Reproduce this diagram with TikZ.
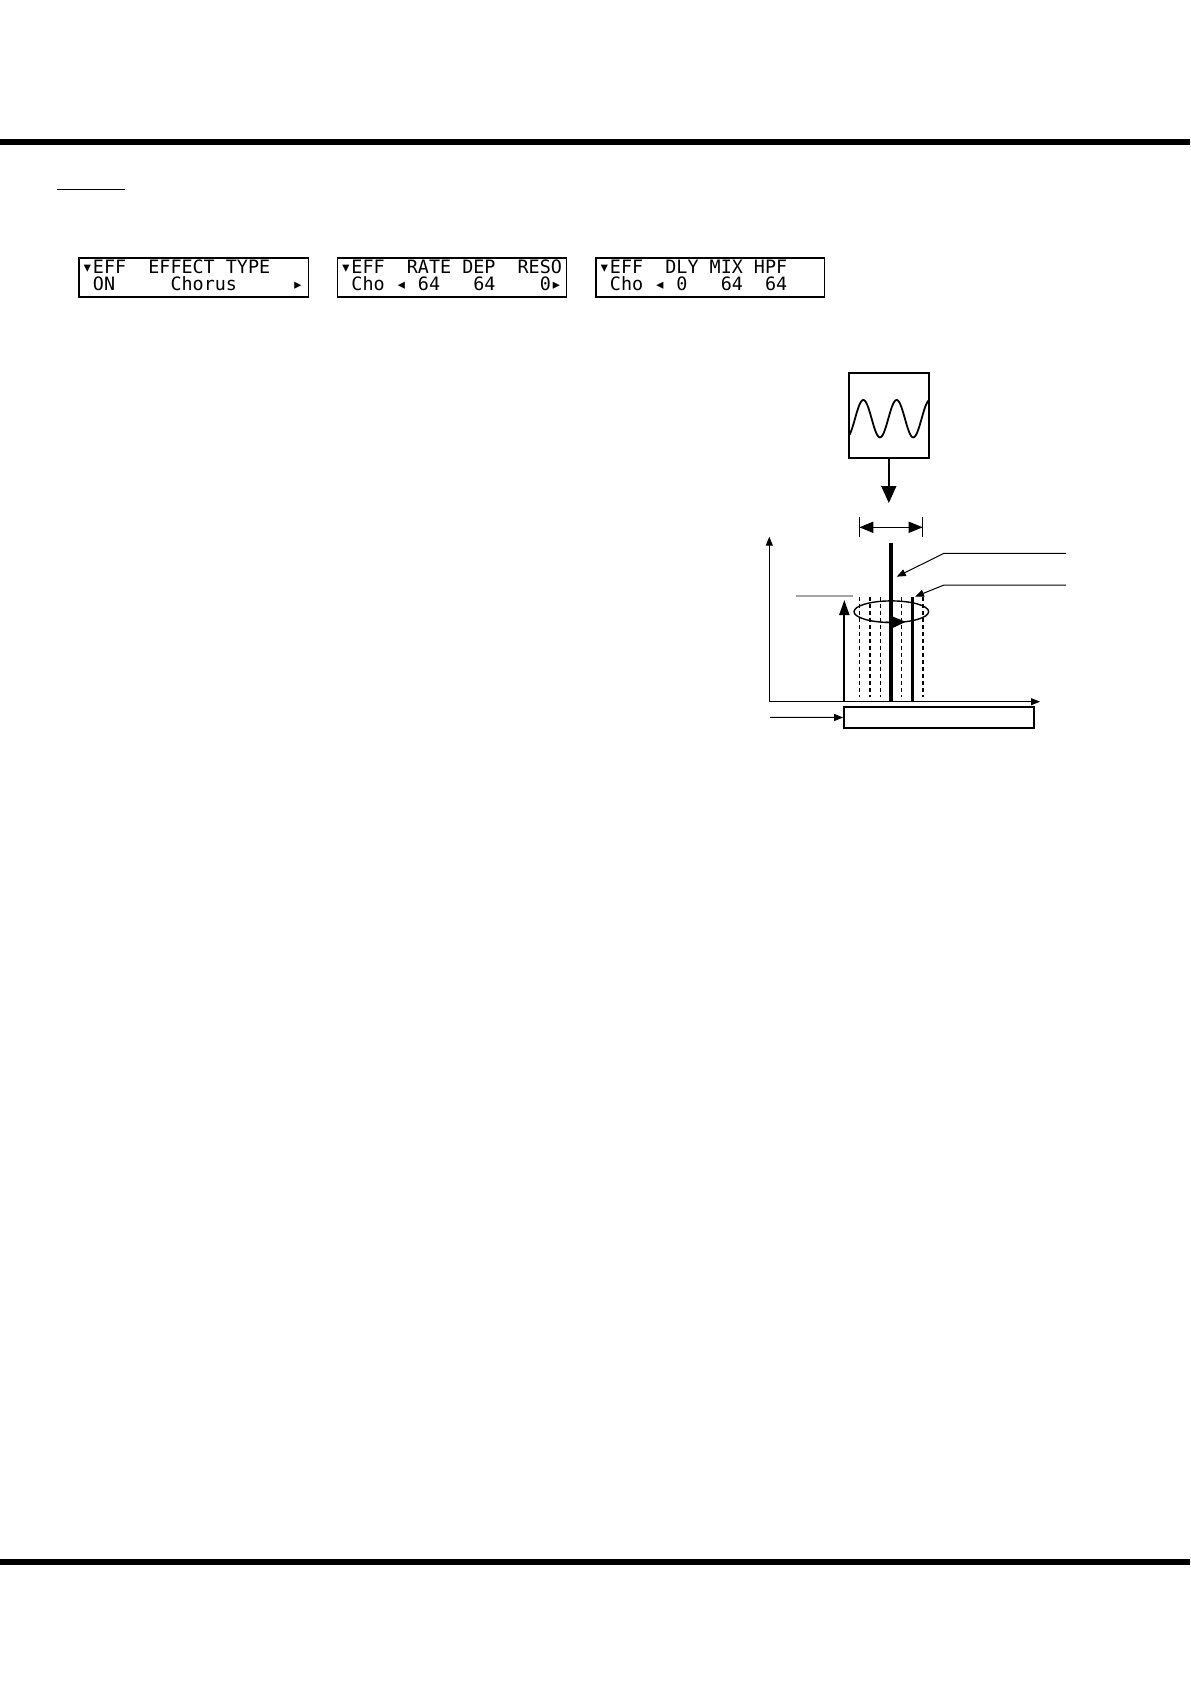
\documentclass[tikz,border=0pt]{standalone}
\usepackage{fontspec}
\newfontfamily\lcdfont{DejaVu Sans Mono}
\usetikzlibrary{positioning, calc, arrows.meta}

\tikzset{
    lcd/.style={anchor=base west, inner sep=0pt, font=\lcdfont\fontsize{9.2}{11}\selectfont},
    lcdbox/.style={line width=0.85pt},
    bigtip/.style={-{Triangle[length=8.5pt,width=7.5pt]}, line width=0.8pt},
    smalltip/.style={-{Triangle[length=4.5pt,width=3.5pt]}, line width=0.5pt},
    dashline/.style={dash pattern=on 2pt off 1.5pt},
}

\begin{document}
\begin{tikzpicture}[x=0.5pt, y=-0.5pt]
        \useasboundingbox (0,0) rectangle (1190,1684);
        \fill (0,139) rectangle (1190,145);
        \fill (0,1559) rectangle (1190,1565);
        \draw[line width=0.5pt] (57,190) -- (125,190);

        \draw[lcdbox] (79,258) rectangle (308.5,297);
        \draw[lcdbox] (337.5,258) rectangle (566.5,297);
        \draw[lcdbox] (596,258) rectangle (824.5,297);

        \node[lcd] (typeA) at (81.5,274) {▾EFF~~EFFECT~TYPE};
        \node[lcd] (typeB) at (81.5,291) {~ON~~~~~Chorus~~~~~▸};
        \node[lcd] (rateA) at (340,274) {▾EFF~~RATE~DEP~~RESO};
        \node[lcd] (rateB) at (340,291) {~Cho~◂~64~~~64~~~~0▸};
        \node[lcd] (dlyA) at (598.5,274) {▾EFF~~DLY~MIX~HPF};
        \node[lcd] (dlyB) at (598.5,291) {~Cho~◂~0~~~64~~64};

        \node[draw, line width=0.9pt, minimum width=40pt, minimum height=42.5pt, inner sep=0pt] (wave) at (888.8,415.8) {};
        \draw[line width=0.9pt, domain=0:79, samples=100, smooth, variable=\t]
            plot (849.5+\t, {418.7-18.7*cos(10.81*(\t-13.8))});
        \coordinate (wavetip) at (888.8,503);
        \draw[bigtip] (wave.south) -- (wavetip);

        \coordinate (spanL) at (859.3,527.3);
        \coordinate (spanR) at (922.7,527.3);
        \draw[{Triangle[length=7pt,width=5.5pt]}-{Triangle[length=7pt,width=5.5pt]}, line width=0.8pt] (spanL) -- (spanR);
        \draw[line width=0.6pt] (859.3,516.7) -- (859.3,537.3);
        \draw[line width=0.6pt] (922.7,516.7) -- (922.7,537.3);

        \coordinate (origin) at (769.3,701.7);
        \coordinate (ytop) at (769.3,536.7);
        \coordinate (xend) at (1040,701.7);
        \draw[smalltip] (origin) -- (ytop);
        \draw[smalltip] (origin) -- (xend);

        \foreach \x/\w in {859.3/0.5, 870/0.8, 880.3/0.5, 901.7/0.5, 922.7/0.8}
            \draw[dashline, line width=\w pt] (\x,596.7) -- (\x,696.7);

        \draw[gray!70, line width=1pt] (796,596) -- (853.3,596);
        \coordinate (levelbot) at (844.3,701.7);
        \coordinate (leveltop) at (844.3,600);
        \draw[-{Triangle[length=7.5pt,width=5pt]}, line width=1pt] (levelbot) -- (leveltop);

        \draw[line width=2pt] (891,543.3) -- (891,701.7);
        \draw[line width=1.5pt] (912.3,596.7) -- (912.3,701.7);

        \draw[line width=0.7pt] (891.3,611.7) ellipse [x radius=37.3, y radius=10.8];
        \coordinate (spinA) at (886,622.4);
        \coordinate (spinB) at (905.7,621.8);
        \draw[-{Triangle[length=6.5pt,width=5.5pt]}, line width=0.7pt] (spinA) -- (spinB);

        \coordinate (leadA1) at (1066,553.3);
        \coordinate (leadA2) at (944,553.3);
        \coordinate (leadA3) at (896.7,576.7);
        \draw[smalltip] (leadA1) -- (leadA2) -- (leadA3);
        \coordinate (leadB1) at (1066,585);
        \coordinate (leadB2) at (944,585);
        \coordinate (leadB3) at (915,596.7);
        \draw[smalltip] (leadB1) -- (leadB2) -- (leadB3);

        \node[draw, line width=0.85pt, minimum width=95pt, minimum height=10.8pt, inner sep=0pt] (keys) at (939,717.5) {};
        \coordinate (keyin) at (770,717.3);
        \draw[smalltip] (keyin) -- (keys.west);
\end{tikzpicture}
\end{document}
